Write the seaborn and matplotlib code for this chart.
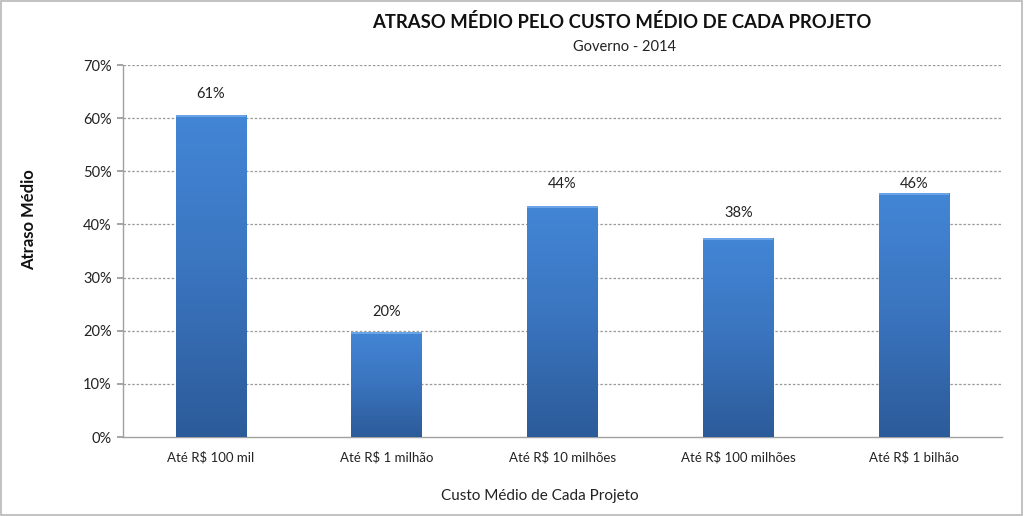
import numpy as np
import pandas as pd
import matplotlib
matplotlib.use("Agg")
import matplotlib.pyplot as plt
import seaborn as sns
from matplotlib.colors import LinearSegmentedColormap
from matplotlib.patches import Rectangle

categories = ["Até R$ 100 mil", "Até R$ 1 milhão", "Até R$ 10 milhões",
              "Até R$ 100 milhões", "Até R$ 1 bilhão"]
values = [60.6, 19.8, 43.5, 37.5, 45.9]
labels = ["61%", "20%", "44%", "38%", "46%"]
yticks = [0, 10, 20, 30, 40, 50, 60, 70]

# label placement offsets above bar tops (styling)
label_offsets = [3.95, 3.8, 4.1, 4.7, 1.7]

sns.set_theme(style="white")
plt.rcParams['font.family'] = ['Lato', 'DejaVu Sans']

df = pd.DataFrame({"cat": categories, "val": values})

fig = plt.figure(figsize=(10.24, 5.16), dpi=100)
ax = fig.add_axes([0.120, 0.153, 0.8585, 0.721])

sns.barplot(data=df, x="cat", y="val", ax=ax, color="#3f7fd0", width=0.4,
            saturation=1, edgecolor="none", zorder=2)

cmap = LinearSegmentedColormap.from_list("g", ["#2c5b99", "#3a74be", "#4386d6"])
grad = np.linspace(0, 1, 256).reshape(-1, 1)
for p in list(ax.patches):
    x0, y0 = p.get_x(), p.get_y()
    w, h = p.get_width(), p.get_height()
    im = ax.imshow(grad, cmap=cmap, aspect="auto", origin="lower",
                   extent=[x0, x0 + w, y0, y0 + h], zorder=3)
    im.set_clip_path(p)
    ax.add_patch(Rectangle((x0, y0 + h - 0.4), w, 0.4, color="#6aa3e6",
                           zorder=4, lw=0))

for i, (v, lab, off) in enumerate(zip(values, labels, label_offsets)):
    ax.text(i, v + off, lab, ha="center", va="center", fontsize=10.5,
            color="#222222", zorder=5)

ax.set_xlim(-0.5, 4.5)
ax.set_ylim(0, 70)
ax.set_yticks(yticks)
ax.set_yticklabels([f"{t}%" for t in yticks], fontsize=10.5, color="#222222")
ax.tick_params(axis="x", labelsize=9.5, colors="#222222", length=0, pad=10)
ax.tick_params(axis="y", length=4, color="#999999", pad=4, left=True)
for t in yticks[1:]:
    ax.axhline(t, color="#9a9a9a", lw=0.9, ls=(0, (2, 1.5)), zorder=1)

for s in ["top", "right"]:
    ax.spines[s].set_visible(False)
for s in ["left", "bottom"]:
    ax.spines[s].set_color("#a0a0a0")
    ax.spines[s].set_linewidth(1)
ax.set_xlabel("")
ax.set_ylabel("")

fig.text(0.607, 0.957, "ATRASO MÉDIO PELO CUSTO MÉDIO DE CADA PROJETO",
         ha="center", va="center", fontsize=13.3, fontweight="bold", color="#111111")
fig.text(0.610, 0.909, "Governo - 2014", ha="center", va="center",
         fontsize=10.5, color="#222222")
fig.text(0.028, 0.574, "Atraso Médio", ha="center", va="center", rotation=90,
         fontsize=12, fontweight="bold", color="#111111")
fig.text(0.527, 0.039, "Custo Médio de Cada Projeto", ha="center", va="center",
         fontsize=11, color="#222222")

fig.patches.append(Rectangle((0.001, 0.002), 0.997, 0.996, transform=fig.transFigure,
                             fill=False, edgecolor="#b8b8b8", lw=1.2))

fig.savefig("out.png", dpi=100)
